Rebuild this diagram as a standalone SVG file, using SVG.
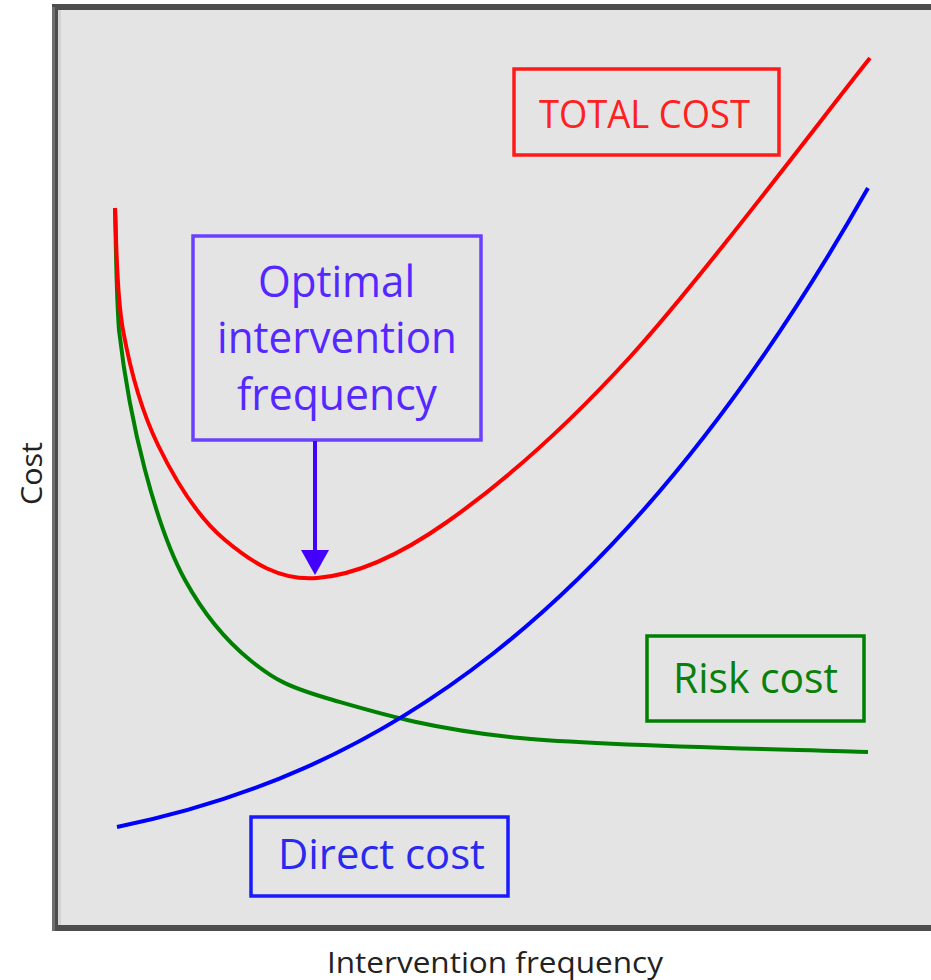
<svg xmlns="http://www.w3.org/2000/svg" width="931" height="980" viewBox="0 0 931 980">
<style>
.lbl{font-family:"Open Sans","Noto Sans","Liberation Sans",sans-serif;font-weight:400}
.box{fill:none;stroke-width:3.5}
.curve{fill:none;stroke-width:4;stroke-linecap:butt;stroke-linejoin:round}
.axis{font-family:"Open Sans","Noto Sans","Liberation Sans",sans-serif;font-size:29px;fill:#222}
</style>
<rect width="931" height="980" fill="#ffffff"/>
<g id="frame">
<rect x="55" y="7" width="980" height="921" fill="#e4e4e4" stroke="#4d4d4d" stroke-width="6"/>
<rect x="52" y="7" width="3" height="924" fill="#6e6e6e"/>
<rect x="58" y="10" width="3" height="915" fill="#d2d2d2"/>
</g>
<g id="curves">
<path id="risk-curve" class="curve" stroke="#008000" d="M115,208 C115.7,228.3 116,290 119,330 C124,373.7 134,428.3 145,470 C156,511.7 167.5,548.3 185,580 C202.5,611.7 225.3,640 250,660 C274.7,680 288,687 333,700 C378,713 430.8,729.3 520,738 C609.2,746.7 810,749.7 868,752"/>
<path id="direct-curve" class="curve" stroke="#0000ff" d="M117,827 C367.3,776.5 617.7,629.2 868,188"/>
<path id="total-curve" class="curve" stroke="#ff0000" d="M115,208 C116.3,228.3 115.8,290.5 123,330 C130.2,369.5 141,410 158,445 C175,480 198.5,517.8 225,540 C251.5,562.2 280,581 317,578 C354,575 394.8,558.8 447,522 C499.2,485.2 559.5,434.3 630,357 C700.5,279.7 830,107.8 870,58"/>
</g>
<g id="total-cost">
<rect class="box" x="514" y="69" width="265" height="86" stroke="#ff1a1a"/>
<text class="lbl" x="539" y="128" font-size="39" fill="#ff2020" textLength="211" lengthAdjust="spacingAndGlyphs">TOTAL COST</text>
</g>
<g id="optimal">
<rect class="box" x="193" y="236" width="288" height="204" stroke="#6a40ff"/>
<text class="lbl" x="258" y="297" font-size="43" fill="#5528ff" textLength="157" lengthAdjust="spacingAndGlyphs">Optimal</text>
<text class="lbl" x="217" y="353" font-size="43" fill="#5528ff" textLength="240" lengthAdjust="spacingAndGlyphs">intervention</text>
<text class="lbl" x="237" y="410" font-size="43" fill="#5528ff" textLength="200" lengthAdjust="spacingAndGlyphs">frequency</text>
</g>
<g id="risk-cost">
<rect class="box" x="647" y="636" width="217" height="85" stroke="#008000"/>
<text class="lbl" x="673" y="693" font-size="42" fill="#0a800a" textLength="165" lengthAdjust="spacingAndGlyphs">Risk cost</text>
</g>
<g id="direct-cost">
<rect class="box" x="251" y="817" width="257" height="79" stroke="#1a1aff"/>
<text class="lbl" x="278" y="869" font-size="42" fill="#2a2aee" textLength="207" lengthAdjust="spacingAndGlyphs">Direct cost</text>
</g>
<g id="connectors">
<line x1="315" y1="441" x2="315" y2="553" stroke="#4400ff" stroke-width="4"/>
<polygon points="301,550 329,550 315,575" fill="#4400ff"/>
</g>
<g id="axes">
<text class="axis" x="327" y="973" textLength="336" lengthAdjust="spacingAndGlyphs">Intervention frequency</text>
<text class="axis" transform="translate(42,505) rotate(-90)" textLength="63" lengthAdjust="spacingAndGlyphs">Cost</text>
</g>
</svg>
